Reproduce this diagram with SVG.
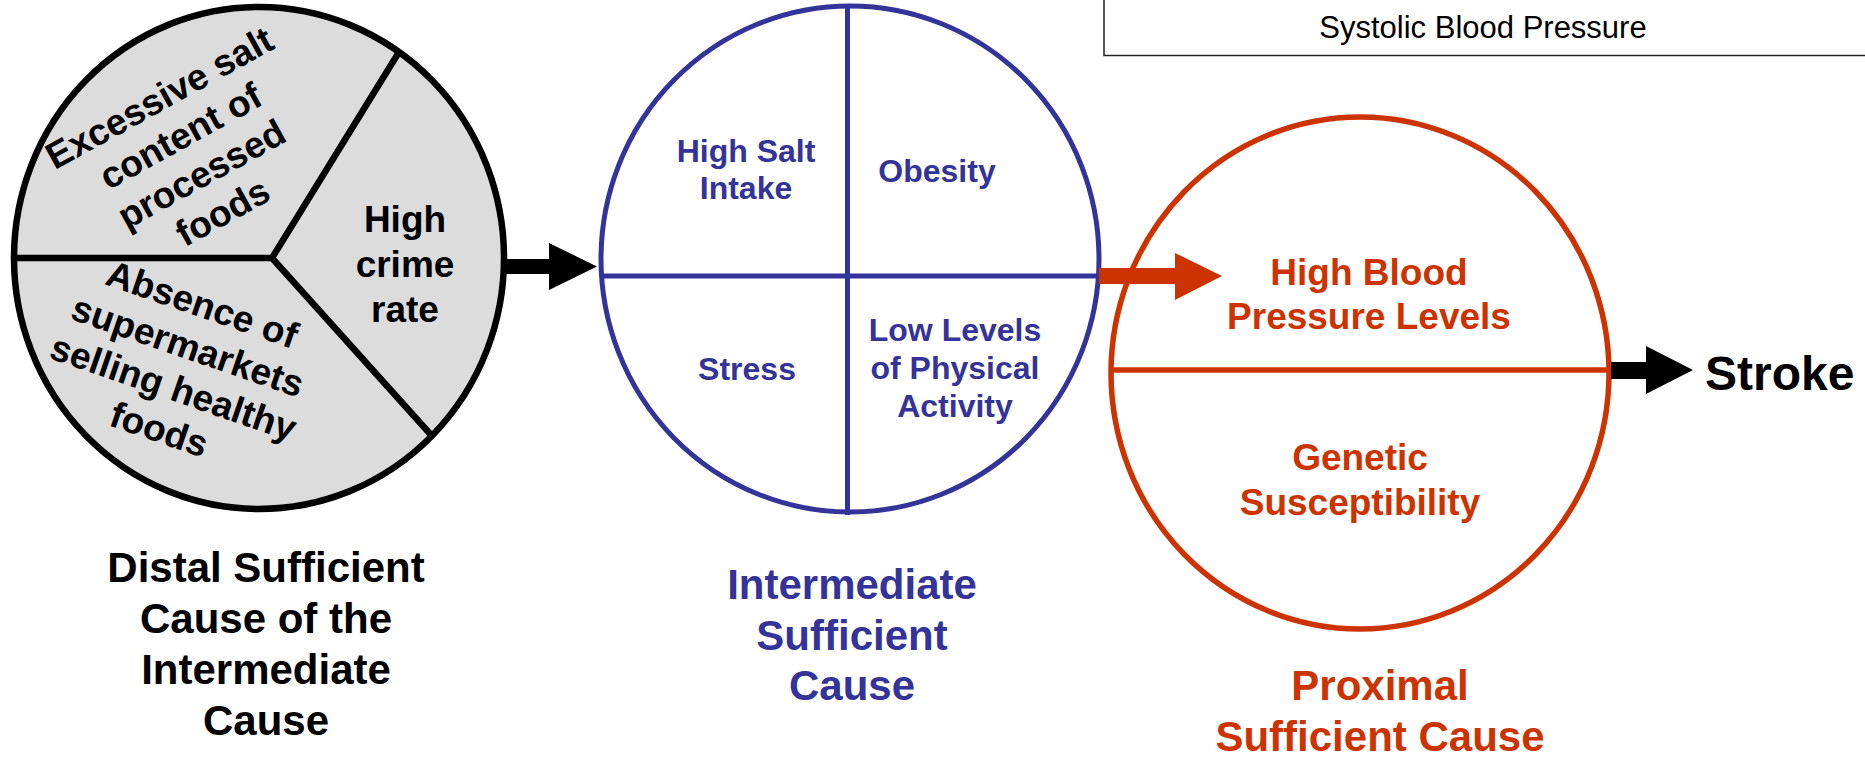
<svg xmlns="http://www.w3.org/2000/svg" width="1865" height="763" viewBox="0 0 1865 763">
<style>
text{font-family:"Liberation Sans",Arial,Helvetica,sans-serif;}
.b{font-weight:bold;}
.blk{fill:#000;}
.blu{fill:#333399;}
.red{fill:#cc3300;}
.mid{text-anchor:middle;}
.pie{font-size:37px;font-weight:bold;fill:#000;text-anchor:middle;}
.ftext{font-size:32px;font-weight:bold;fill:#333399;text-anchor:middle;}
.rtext{font-size:37px;font-weight:bold;fill:#cc3300;text-anchor:middle;}
.cap{font-size:42px;font-weight:bold;text-anchor:middle;}
</style>
<rect width="1865" height="763" fill="#fff"/>

<g id="legend-box">
<rect x="1104" y="-10" width="800" height="65.5" fill="#fff" stroke="#222" stroke-width="1.5"/>
<text x="1483" y="38" font-size="31" fill="#000" text-anchor="middle">Systolic Blood Pressure</text>
</g>

<g id="distal-cause">
<ellipse cx="259" cy="258" rx="245" ry="251" fill="#dcdcdc" stroke="#000" stroke-width="6.5"/>
<path d="M14 258 L272 258 L399 52 M272 258 L432 436" fill="none" stroke="#000" stroke-width="6.5" stroke-linejoin="miter"/>
<text class="pie" transform="translate(165.5,109) rotate(-29)"><tspan x="0" y="0">Excessive salt</tspan><tspan x="0" y="43.5">content of</tspan><tspan x="0" y="87">processed</tspan><tspan x="0" y="130.5">foods</tspan></text>
<text class="pie" transform="translate(198,316.5) rotate(19)"><tspan x="0" y="0">Absence of</tspan><tspan x="0" y="44">supermarkets</tspan><tspan x="0" y="88">selling healthy</tspan><tspan x="0" y="132">foods</tspan></text>
<text class="pie"><tspan x="405" y="232">High</tspan><tspan x="405" y="277">crime</tspan><tspan x="405" y="322">rate</tspan></text>
<text class="cap blk"><tspan x="266" y="582">Distal Sufficient</tspan><tspan x="266" y="633">Cause of the</tspan><tspan x="266" y="684">Intermediate</tspan><tspan x="266" y="735">Cause</tspan></text>
</g>

<g id="intermediate-cause">
<ellipse cx="850" cy="259" rx="249" ry="253" fill="#fff" stroke="#333399" stroke-width="5"/>
<path d="M847.5 6 L847.5 515 M601 276 L1099 276" fill="none" stroke="#333399" stroke-width="5"/>
<text class="ftext"><tspan x="746" y="162">High Salt</tspan><tspan x="746" y="199">Intake</tspan></text>
<text class="ftext" x="937" y="182">Obesity</text>
<text class="ftext" x="747" y="380">Stress</text>
<text class="ftext"><tspan x="955" y="341">Low Levels</tspan><tspan x="955" y="379">of Physical</tspan><tspan x="955" y="417">Activity</tspan></text>
<text class="cap blu"><tspan x="852" y="599">Intermediate</tspan><tspan x="852" y="650">Sufficient</tspan><tspan x="852" y="700">Cause</tspan></text>
</g>

<g id="proximal-cause">
<ellipse cx="1360" cy="373" rx="249" ry="256" fill="none" stroke="#cc3300" stroke-width="5.5"/>
<path d="M1111 370 L1609 370" fill="none" stroke="#cc3300" stroke-width="5.5"/>
<text class="rtext"><tspan x="1369" y="285">High Blood</tspan><tspan x="1369" y="329">Pressure Levels</tspan></text>
<text class="rtext"><tspan x="1360" y="470">Genetic</tspan><tspan x="1360" y="515">Susceptibility</tspan></text>
<text class="cap red"><tspan x="1380" y="700">Proximal</tspan><tspan x="1380" y="751">Sufficient Cause</tspan></text>
</g>

<g id="outcome">
<text x="1705" y="390" font-size="48" font-weight="bold" fill="#000">Stroke</text>
</g>

<g id="connectors">
<polygon points="505,259 549,259 549,243 597,266.5 549,290 549,274 505,274" fill="#000"/>
<polygon points="1099,268 1175,268 1175,253 1222,276 1175,300 1175,284 1099,284" fill="#cc3300"/>
<polygon points="1611,362 1646,362 1646,346 1693,370 1646,394 1646,379 1611,379" fill="#000"/>
</g>
</svg>
